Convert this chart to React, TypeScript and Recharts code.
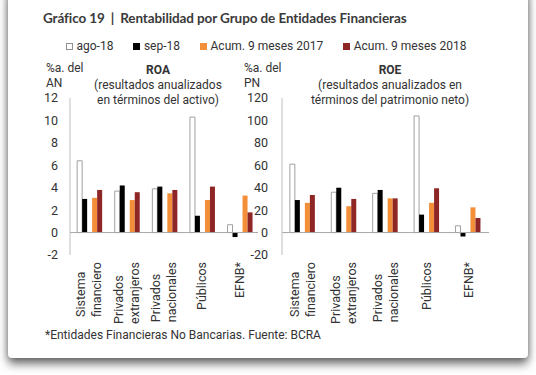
import React from 'react';
import { BarChart, Bar, XAxis, YAxis, ReferenceLine } from 'recharts';

const categories = ['Sistema financiero', 'Privados extranjeros', 'Privados nacionales', 'Públicos', 'EFNB*'];
const seriesNames = ['ago-18', 'sep-18', 'Acum. 9 meses 2017', 'Acum. 9 meses 2018'];
const seriesColors = ['#ffffff', '#000000', '#F28F38', '#8E2626'];
const roaAgo = [6.4, 3.7, 3.9, 10.3, 0.7];
const roaSep = [3.0, 4.2, 4.1, 1.5, -0.4];
const roaAcum17 = [3.1, 2.9, 3.5, 2.9, 3.3];
const roaAcum18 = [3.8, 3.6, 3.8, 4.1, 1.8];
const roeAgo = [61, 36, 35, 104, 6];
const roeSep = [29, 40, 38, 16, -3.5];
const roeAcum17 = [26.5, 23.5, 30.5, 26.5, 22.5];
const roeAcum18 = [33.5, 30, 30.5, 39.5, 13];
const roaTicks = [-2, 0, 2, 4, 6, 8, 10, 12];
const roeTicks = [-20, 0, 20, 40, 60, 80, 100, 120];

const build = (a: number[], b: number[], c: number[], d: number[]) =>
  categories.map((cat, i) => ({ cat, s0: a[i], s1: b[i], gap: null, s2: c[i], s3: d[i] }));

const roaData = build(roaAgo, roaSep, roaAcum17, roaAcum18);
const roeData = build(roeAgo, roeSep, roeAcum17, roeAcum18);

const FONT = 'Roboto, sans-serif';
const TXT = '#333333';
const FS = 12;
const CAT_FS = 12.5;

let ctx: CanvasRenderingContext2D | null = null;
const measure = (s: string) => {
  if (!ctx && typeof document !== 'undefined') {
    ctx = document.createElement('canvas').getContext('2d');
  }
  if (ctx) {
    ctx.font = `${CAT_FS}px Roboto`;
    return ctx.measureText(s).width;
  }
  return s.length * 6.2;
};

const CatTick = (props: any) => {
  const { x, y, payload } = props;
  const lines: string[] = String(payload.value).split(' ');
  const w = Math.max(...lines.map(measure));
  const top = y + 7;
  const start = top + w;
  const lh = 16;
  const n = lines.length;
  return (
    <g>
      {lines.map((ln, i) => {
        const lx = x + (i - (n - 1) / 2) * lh;
        return (
          <text
            key={i}
            x={0}
            y={0}
            transform={`translate(${lx},${start}) rotate(-90)`}
            textAnchor="start"
            dy="0.35em"
            fontSize={CAT_FS}
            fontFamily={FONT}
            fill={TXT}
          >
            {ln}
          </text>
        );
      })}
    </g>
  );
};

const renderChart = (
  data: any[],
  ticks: number[],
  width: number,
  margin: any,
  tickMargin: number
) => (
  <BarChart
    width={width}
    height={340}
    data={data}
    barGap={0}
    barCategoryGap="19%"
    margin={margin}
  >
    <XAxis
      dataKey="cat"
      axisLine={false}
      tickLine={false}
      tickSize={0}
      tickMargin={0}
      height={70}
      interval={0}
      tick={<CatTick />}
    />
    <YAxis
      width={30}
      domain={[ticks[0], ticks[ticks.length - 1]]}
      ticks={ticks}
      interval={0}
      axisLine={{ stroke: '#bfbfbf' }}
      tickLine={false}
      tickSize={0}
      tickMargin={tickMargin}
      tick={{ fontSize: 12.5, fontFamily: FONT, fill: TXT }}
    />
    <ReferenceLine y={0} stroke="#a6a6a6" strokeWidth={1} />
    <Bar dataKey="s0" fill={seriesColors[0]} stroke="#a0a0a0" strokeWidth={1} isAnimationActive={false} />
    <Bar dataKey="s1" fill={seriesColors[1]} isAnimationActive={false} />
    <Bar dataKey="gap" fill="none" isAnimationActive={false} />
    <Bar dataKey="s2" fill={seriesColors[2]} isAnimationActive={false} />
    <Bar dataKey="s3" fill={seriesColors[3]} isAnimationActive={false} />
  </BarChart>
);

const abs = (o: React.CSSProperties): React.CSSProperties => ({ position: 'absolute', ...o });

const txt = (o: React.CSSProperties): React.CSSProperties =>
  abs({ fontFamily: FONT, fontSize: FS, color: TXT, lineHeight: '15px', whiteSpace: 'nowrap', ...o });

export default function App() {
  return (
    <div style={abs({ left: 0, top: 0, width: 536, height: 375, background: '#ffffff', overflow: 'hidden' })}>
      <div
        style={abs({
          left: 8,
          top: -12,
          width: 520,
          height: 370,
          background: '#ffffff',
          borderRadius: 4,
          boxShadow: '0 6px 10px rgba(0,0,0,0.55), 0 0 6px rgba(0,0,0,0.25)',
        })}
      />
      <div
        style={abs({
          left: 43,
          top: 8,
          fontFamily: 'Lato, sans-serif',
          fontWeight: 700,
          fontSize: 13.5,
          color: '#3a3a3a',
          whiteSpace: 'nowrap',
          lineHeight: '20px',
          letterSpacing: -0.1,
        })}
      >
        Gráfico 19<span style={{ margin: '0 6px' }}>|</span>Rentabilidad por Grupo de Entidades Financieras
      </div>
      <div
        style={abs({
          left: 66,
          top: 38,
          display: 'flex',
          alignItems: 'center',
          fontFamily: FONT,
          fontSize: FS,
          color: TXT,
          whiteSpace: 'nowrap',
          lineHeight: '16px',
        })}
      >
        {seriesNames.map((n, i) => (
          <div key={n} style={{ display: 'flex', alignItems: 'center', marginRight: 20 }}>
            <div
              style={{
                width: 5,
                height: 5,
                background: seriesColors[i],
                border: i === 0 ? '1px solid #909090' : `1px solid ${seriesColors[i]}`,
                marginRight: 3.5,
              }}
            />
            {n}
          </div>
        ))}
      </div>

      <div style={abs({ left: 0, top: 0 })}>
        {renderChart(roaData, roaTicks, 270, { top: 98, right: 12, left: 40, bottom: 15 }, 12)}
      </div>
      <div style={abs({ left: 240, top: 0 })}>
        {renderChart(roeData, roeTicks, 260, { top: 98, right: 11, left: 12, bottom: 15 }, 14)}
      </div>

      <div style={txt({ left: 46, top: 61 })}>
        %a. del
        <br />
        AN
      </div>
      <div style={txt({ left: 244, top: 61 })}>
        %a. del
        <br />
        PN
      </div>
      <div style={txt({ left: 78, width: 160, top: 63, textAlign: 'center' })}>
        <b>ROA</b>
        <br />
        (resultados anualizados
        <br />
        en términos del activo)
      </div>
      <div style={txt({ left: 300, width: 180, top: 63, textAlign: 'center' })}>
        <b>ROE</b>
        <br />
        (resultados anualizados en
        <br />
        términos del patrimonio neto)
      </div>
      <div style={txt({ left: 45, top: 327, lineHeight: '16px' })}>
        *Entidades Financieras No Bancarias. Fuente: BCRA
      </div>
    </div>
  );
}
